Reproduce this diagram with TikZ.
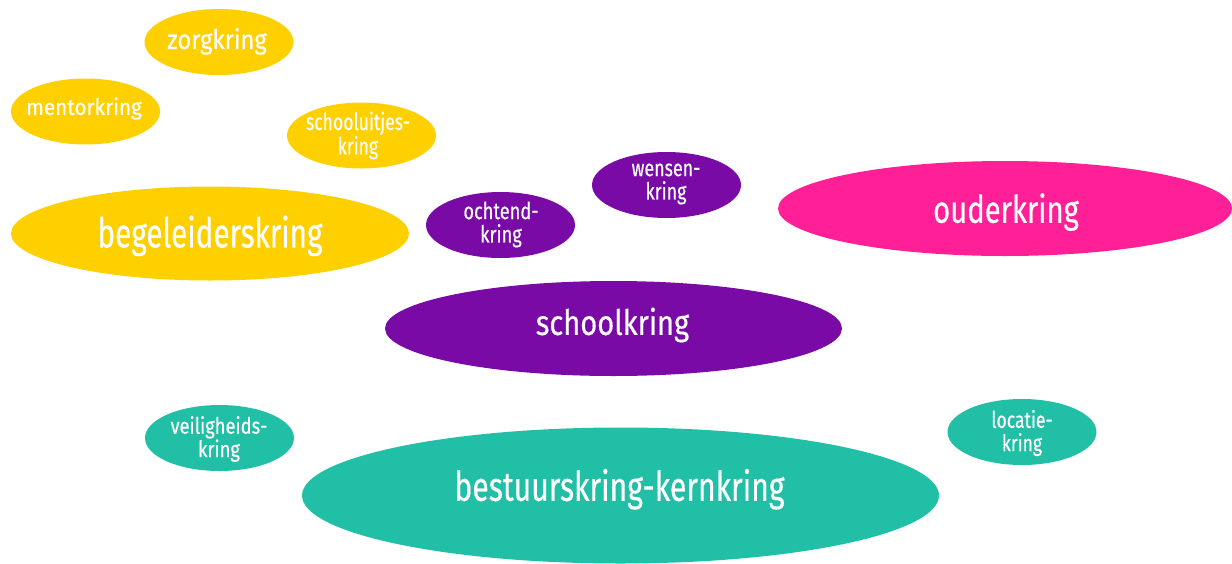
\documentclass[tikz,border=0pt]{standalone}
\usepackage{fontspec}
\setmainfont{Fira Sans}
\usetikzlibrary{shapes.geometric}
\definecolor{kyellow}{HTML}{FFD000}
\definecolor{kpurple}{HTML}{7A0AA6}
\definecolor{kpink}{HTML}{FF1F97}
\definecolor{kteal}{HTML}{22BFA7}
% size, baselineskip, horizontal stretch
\newcommand{\kf}[3]{\fontspec{Fira Sans}[FakeStretch=#3,FakeBold=0.35]\fontsize{#1}{#2}\selectfont}
\tikzset{
  kring/.style={ellipse, inner sep=0pt},
  kringsmall/.style={kring, minimum width=149pt, minimum height=66pt},
  kringtext/.style={inner sep=0pt, text=white, align=center},
}
\begin{document}
\begin{tikzpicture}[x=1pt,y=-1pt]
\useasboundingbox (0,0) rectangle (1232,563);
% yellow
\node[kringsmall, fill=kyellow] (zorg) at (219,42) {};
\node[kringtext, font={\kf{27pt}{27pt}{0.88}}] (zorg-t) at (217,41.3) {zorgkring};
\node[kringsmall, fill=kyellow] (mentor) at (85.5,111.5) {};
\node[kringtext, font={\kf{22.5pt}{22.5pt}{0.92}}] (mentor-t) at (84,108.5) {mentorkring};
\node[kringsmall, fill=kyellow] (uitjes) at (361.5,135.5) {};
\node[kringtext, font={\kf{23.5pt}{23.3pt}{0.75}}] (uitjes-t) at (358,135.5) {schooluitjes-\\kring};
\node[kring, fill=kyellow, minimum width=398pt, minimum height=94pt] (begeleider) at (210,233.5) {};
\node[kringtext, font={\kf{41pt}{41pt}{0.725}}] (begeleider-t) at (210,235.8) {begeleiderskring};
% purple
\node[kringsmall, fill=kpurple] (ochtend) at (500.5,225) {};
\node[kringtext, font={\kf{23.5pt}{23.3pt}{0.775}}] (ochtend-t) at (501,224.5) {ochtend-\\kring};
\node[kringsmall, fill=kpurple] (wensen) at (666.5,185) {};
\node[kringtext, font={\kf{23.5pt}{23.3pt}{0.76}}] (wensen-t) at (666,184) {wensen-\\kring};
\node[kring, fill=kpurple, minimum width=457pt, minimum height=95pt] (school) at (613.5,328.5) {};
\node[kringtext, font={\kf{35pt}{35pt}{0.83}}] (school-t) at (612.5,325) {schoolkring};
% pink
\node[kring, fill=kpink, minimum width=454pt, minimum height=95pt] (ouder) at (1005,208.5) {};
\node[kringtext, font={\kf{38pt}{38pt}{0.77}}] (ouder-t) at (1006,212) {ouderkring};
% teal
\node[kringsmall, fill=kteal] (veilig) at (219.5,438) {};
\node[kringtext, font={\kf{22.5pt}{23.3pt}{0.815}}] (veilig-t) at (219,439) {veiligheids-\\kring};
\node[kringsmall, fill=kteal] (locatie) at (1022,432) {};
\node[kringtext, font={\kf{23pt}{23.3pt}{0.765}}] (locatie-t) at (1022,433) {locatie-\\kring};
\node[kring, fill=kteal, minimum width=637pt, minimum height=136pt] (bestuur) at (620.5,495.5) {};
\node[kringtext, font={\kf{41pt}{41pt}{0.735}}] (bestuur-t) at (619.5,489.2) {bestuurskring-kernkring};
\end{tikzpicture}
\end{document}
